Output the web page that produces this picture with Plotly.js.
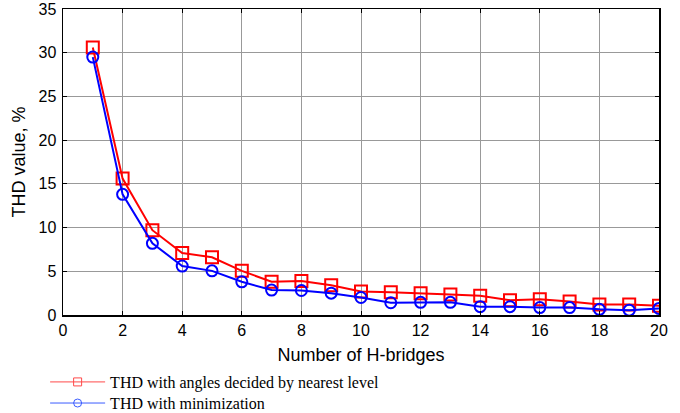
<!DOCTYPE html>
<html>
<head>
<meta charset="utf-8">
<script src="https://cdn.plot.ly/plotly-3.0.1.min.js"></script>
<style>html,body{margin:0;padding:0;background:#fff;}#chart{width:680px;height:413px;}</style>
</head>
<body>
<div id="chart"></div>
<script>
const bridges = [1,2,3,4,5,6,7,8,9,10,11,12,13,14,15,16,17,18,19,20];
const thdNearest = [30.6,15.6,9.7,7.1,6.6,5.05,3.8,3.9,3.4,2.7,2.6,2.5,2.35,2.2,1.7,1.8,1.55,1.2,1.2,1.05];
const thdMinim = [29.5,13.8,8.2,5.6,5.05,3.8,2.85,2.8,2.5,2.0,1.4,1.45,1.45,0.95,0.95,0.85,0.85,0.65,0.55,0.75];
const xTicks = [0,2,4,6,8,10,12,14,16,18,20];
const yTicks = [0,5,10,15,20,25,30,35];
const seriesNames = ['THD with angles decided by nearest level', 'THD with minimization'];

const traces = [
  {x: bridges, y: thdNearest, mode: 'lines+markers', name: seriesNames[0], showlegend: false,
   line: {color: '#ff0000', width: 2}, marker: {symbol: 'square-open', size: 12, color: '#ff0000', line: {width: 2}}},
  {x: bridges, y: thdMinim, mode: 'lines+markers', name: seriesNames[1], showlegend: false,
   line: {color: '#0000ff', width: 2}, marker: {symbol: 'circle-open', size: 11, color: '#0000ff', line: {width: 2}}},
  // legend-only entries (thin line, small marker, as in the reference legend)
  {x: [null], y: [null], mode: 'lines+markers', name: seriesNames[0], legend: 'legend',
   line: {color: '#ff4a4a', width: 1}, marker: {symbol: 'square-open', size: 8, color: '#ff4a4a', line: {width: 1}}},
  {x: [null], y: [null], mode: 'lines+markers', name: seriesNames[1], legend: 'legend2',
   line: {color: '#3a5cff', width: 1}, marker: {symbol: 'circle-open', size: 8, color: '#3a5cff', line: {width: 1}}}
];

const axisCommon = {
  showline: true, linecolor: '#000', linewidth: 1.5, mirror: 'ticks',
  ticks: 'inside', ticklen: 4, tickcolor: '#000',
  showgrid: true, gridcolor: '#999999', gridwidth: 1,
  zeroline: false,
  tickfont: {family: 'Liberation Sans, Arial', size: 16, color: '#000'}
};

const legendCommon = {x: -0.03, xanchor: 'left', yanchor: 'middle', orientation: 'v',
  font: {family: 'Liberation Serif, Times New Roman', size: 16, color: '#000'},
  itemwidth: 55, bgcolor: 'rgba(0,0,0,0)'};

const layout = {
  width: 680, height: 413,
  margin: {l: 63, r: 21, t: 9, b: 98, autoexpand: false},
  paper_bgcolor: '#fff', plot_bgcolor: '#fff',
  xaxis: Object.assign({}, axisCommon, {range: [0, 20], tickvals: xTicks,
    title: {text: 'Number of H-bridges', font: {family: 'Liberation Sans, Arial', size: 18, color: '#000'}, standoff: 10}}),
  yaxis: Object.assign({}, axisCommon, {range: [0, 35], tickvals: yTicks, ticklabelstandoff: 2,
    title: {text: 'THD value, %', font: {family: 'Liberation Sans, Arial', size: 18, color: '#000'}, standoff: 8}}),
  showlegend: true,
  legend: Object.assign({}, legendCommon, {y: -0.219}),
  legend2: Object.assign({}, legendCommon, {y: -0.288})
};

Plotly.newPlot('chart', traces, layout, {displayModeBar: false, staticPlot: true});
</script>
</body>
</html>
